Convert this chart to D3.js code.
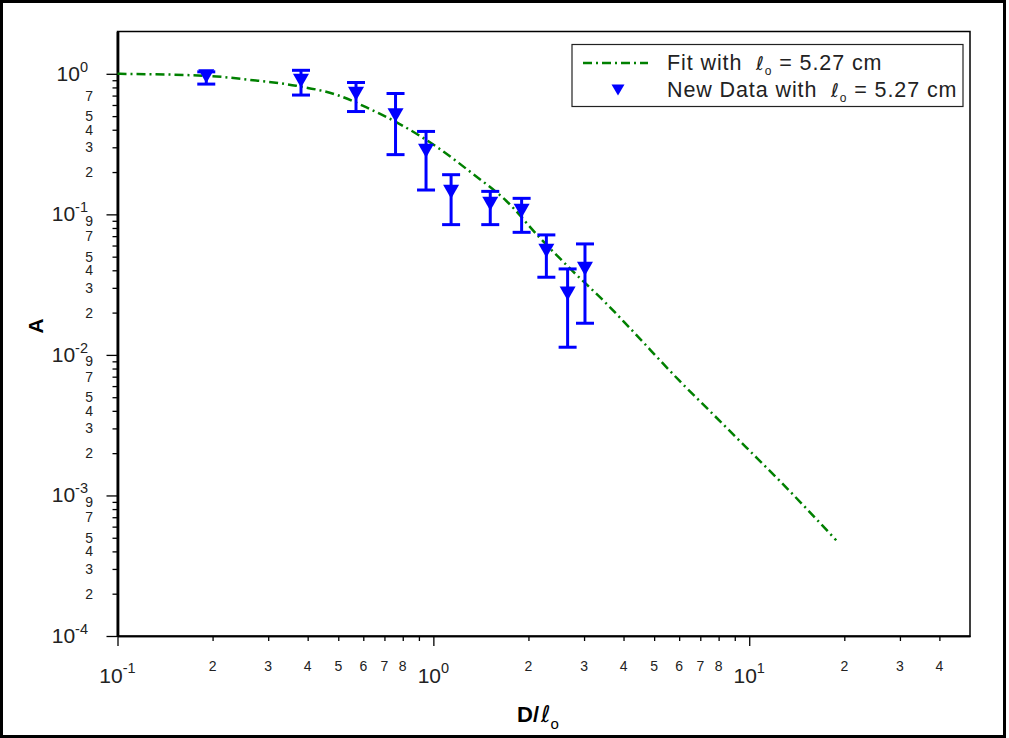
<!DOCTYPE html>
<html>
<head>
<meta charset="utf-8">
<script src="https://cdn.jsdelivr.net/npm/d3@7"></script>
<style>
  body { margin: 0; background: #fff; }
  svg { display: block; font-family: "Liberation Sans", Arial, sans-serif; }
</style>
</head>
<body>
<svg id="chart" width="1009" height="738"></svg>
<script>
// Measured data: normalised distance D/l0, amplitude A, and error-bar bounds
const ratio     = [0.191, 0.381, 0.569, 0.759, 0.948, 1.138, 1.514, 1.903, 2.279, 2.661, 3.02];
const amplitude = [0.960, 0.892, 0.721, 0.507, 0.284, 0.145, 0.119, 0.106, 0.0552, 0.0273, 0.0411];
const ampHigh   = [1.033, 1.059, 0.867, 0.724, 0.389, 0.1915, 0.1457, 0.130, 0.0714, 0.0409, 0.0616];
const ampLow    = [0.845, 0.706, 0.539, 0.266, 0.149, 0.0845, 0.0845, 0.0745, 0.0357, 0.01134, 0.0168];

// Fit curve with l0 = 5.27 cm
const fitRatio = [0.1, 0.191, 0.262, 0.368, 0.504, 0.627, 0.78, 1.045, 1.33, 1.70, 2.17, 2.75, 3.53, 4.17, 6.0, 7.64, 9.78, 12.45, 18.85];
const fitAmp   = [1.0, 0.968, 0.906, 0.822, 0.698, 0.564, 0.441, 0.293, 0.195, 0.125, 0.0683, 0.0398, 0.0232, 0.0157, 0.00658, 0.00383, 0.0022, 0.00128, 0.00048];

// Axis tick labels
const xMajor = [0.1, 1, 10];
const xMajorExp = ["-1", "0", "1"];
const xMinorLabels = [0.2, 0.3, 0.4, 0.5, 0.6, 0.7, 0.8, 2, 3, 4, 5, 6, 7, 8, 20, 30, 40];
const yMajor = [1, 0.1, 0.01, 0.001, 0.0001];
const yMajorExp = ["0", "-1", "-2", "-3", "-4"];
const yMinorLabels = [0.7, 0.5, 0.4, 0.3, 0.2,
                      0.09, 0.07, 0.05, 0.04, 0.03, 0.02,
                      0.009, 0.007, 0.005, 0.004, 0.003, 0.002,
                      0.0009, 0.0007, 0.0005, 0.0004, 0.0003, 0.0002];

const svg = d3.select("#chart");
const plotLeft = 117.5, plotRight = 970, plotTop = 31.5, plotBottom = 636;

const x = d3.scaleLog().domain([0.1, 50]).range([plotLeft, plotRight]);
const y = d3.scaleLog().domain([1e-4, 2]).range([plotBottom, plotTop]);

// Outer border
svg.append("rect").attr("x", 1.5).attr("y", 1.5).attr("width", 1003).attr("height", 735)
  .attr("fill", "none").attr("stroke", "#000").attr("stroke-width", 3);

// Minor tick positions, every integer multiple inside each decade
const xMinorTicks = [];
for (let d = -1; d <= 1; d++) for (let k = 2; k <= 9; k++) {
  const v = k * Math.pow(10, d);
  if (v < 50) xMinorTicks.push(v);
}
const yMinorTicks = [];
for (let d = -4; d <= -1; d++) for (let k = 2; k <= 9; k++) yMinorTicks.push(k * Math.pow(10, d));

// Plot frame
svg.append("rect").attr("x", plotLeft).attr("y", plotTop).attr("width", plotRight - plotLeft).attr("height", plotBottom - plotTop)
  .attr("fill", "none").attr("stroke", "#000").attr("stroke-width", 1.5);

// X axis ticks
const gx = svg.append("g").attr("transform", `translate(0,${plotBottom})`);
gx.append("g").call(d3.axisBottom(x).tickValues(xMajor).tickSize(10).tickSizeOuter(0).tickFormat(""));
gx.append("g").call(d3.axisBottom(x).tickValues(xMinorTicks).tickSize(5).tickSizeOuter(0).tickFormat(""));
gx.selectAll("path.domain").attr("stroke-width", 1.5);
gx.selectAll(".tick line").attr("stroke-width", 1.3);

// Y axis ticks
const gy = svg.append("g").attr("transform", `translate(${plotLeft},0)`);
gy.append("g").call(d3.axisLeft(y).tickValues(yMajor).tickSize(11).tickSizeOuter(0).tickFormat(""));
gy.append("g").call(d3.axisLeft(y).tickValues(yMinorTicks).tickSize(5).tickSizeOuter(0).tickFormat(""));
gy.selectAll("path.domain").attr("stroke-width", 2.4);
gy.selectAll(".tick line").attr("stroke-width", 1.3);

const digitOf = d => String(Math.round(d / Math.pow(10, Math.floor(Math.log10(d) + 1e-9))));

// X tick labels
xMajor.forEach((v, i) => {
  const t = svg.append("text").attr("x", x(v)).attr("y", 683).attr("text-anchor", "middle")
    .attr("font-size", 21).attr("fill", "#222");
  t.append("tspan").text("10");
  t.append("tspan").attr("dy", -10).attr("font-size", 14.5).text(xMajorExp[i]);
});
svg.selectAll("text.xminor").data(xMinorLabels).join("text").attr("class", "xminor")
  .attr("x", d => x(d)).attr("y", 671).attr("text-anchor", "middle")
  .attr("font-size", 14).attr("fill", "#222").text(digitOf);

// Y tick labels
yMajor.forEach((v, i) => {
  const t = svg.append("text").attr("x", 88).attr("y", y(v) + 7).attr("text-anchor", "end")
    .attr("font-size", 21).attr("fill", "#222");
  t.append("tspan").text("10");
  t.append("tspan").attr("dy", -9).attr("font-size", 14.5).text(yMajorExp[i]);
});
svg.selectAll("text.yminor").data(yMinorLabels).join("text").attr("class", "yminor")
  .attr("x", 93).attr("y", d => y(d) + 5).attr("text-anchor", "end")
  .attr("font-size", 14).attr("fill", "#222").text(digitOf);

// Axis titles
svg.append("text").attr("transform", "translate(43,326) rotate(-90)").attr("text-anchor", "middle")
  .attr("font-size", 21).attr("font-weight", "bold").text("A");
const xt = svg.append("text").attr("x", 517).attr("y", 722).attr("font-size", 22);
xt.append("tspan").attr("font-weight", "bold").text("D/");
xt.append("tspan").attr("dx", 2).attr("font-family", "DejaVu Sans").attr("font-size", 23).text("ℓ");
xt.append("tspan").attr("dy", 7).attr("font-size", 15).text("o");

// Fit curve
const fitPts = fitRatio.map((r, i) => [r, fitAmp[i]]);
const line = d3.line().x(d => x(d[0])).y(d => y(d[1])).curve(d3.curveMonotoneX);
svg.append("path").attr("d", line(fitPts)).attr("fill", "none")
  .attr("stroke", "#008000").attr("stroke-width", 2.5).attr("stroke-dasharray", "9,4,2,4");

// Error bars and markers
const pts = ratio.map((r, i) => ({ r, a: amplitude[i], hi: ampHigh[i], lo: ampLow[i] }));
const gp = svg.append("g").attr("stroke", "#0000ff").attr("fill", "#0000ff");
gp.selectAll("line.bar").data(pts).join("line").attr("class", "bar")
  .attr("x1", d => x(d.r)).attr("x2", d => x(d.r)).attr("y1", d => y(d.hi)).attr("y2", d => y(d.lo))
  .attr("stroke-width", 3);
gp.selectAll("line.capHi").data(pts).join("line").attr("class", "capHi")
  .attr("x1", d => x(d.r) - 9).attr("x2", d => x(d.r) + 9).attr("y1", d => y(d.hi)).attr("y2", d => y(d.hi))
  .attr("stroke-width", 3);
gp.selectAll("line.capLo").data(pts).join("line").attr("class", "capLo")
  .attr("x1", d => x(d.r) - 9).attr("x2", d => x(d.r) + 9).attr("y1", d => y(d.lo)).attr("y2", d => y(d.lo))
  .attr("stroke-width", 3);
const tri = (w, h) => `M${-w / 2},${-h / 2}L${w / 2},${-h / 2}L0,${h / 2}Z`;
gp.selectAll("path.mk").data(pts).join("path").attr("class", "mk")
  .attr("transform", d => `translate(${x(d.r)},${y(d.a)})`).attr("d", tri(16, 14)).attr("stroke", "none");

// Legend
const lg = svg.append("g");
lg.append("rect").attr("x", 572).attr("y", 44.5).attr("width", 391).attr("height", 62)
  .attr("fill", "#fff").attr("stroke", "#222").attr("stroke-width", 1.2);
lg.append("line").attr("x1", 583).attr("x2", 648).attr("y1", 63).attr("y2", 63)
  .attr("stroke", "#008000").attr("stroke-width", 2.5).attr("stroke-dasharray", "9,4,2,4");
lg.append("path").attr("transform", "translate(618,90)").attr("d", tri(13, 11)).attr("fill", "#0000ff");
function legendText(yPos, lead) {
  const t = lg.append("text").attr("x", 667).attr("y", yPos).attr("font-size", 21.5)
    .attr("fill", "#222").style("white-space", "pre").style("letter-spacing", "0.9px");
  t.append("tspan").text(lead + "  ");
  t.append("tspan").attr("font-family", "DejaVu Sans").attr("font-size", 19).text("ℓ");
  t.append("tspan").attr("dy", 5).attr("font-size", 12).text("o");
  t.append("tspan").attr("dy", -5).text(" = 5.27 cm");
}
legendText(69.5, "Fit with");
legendText(97, "New Data with");
</script>
</body>
</html>
